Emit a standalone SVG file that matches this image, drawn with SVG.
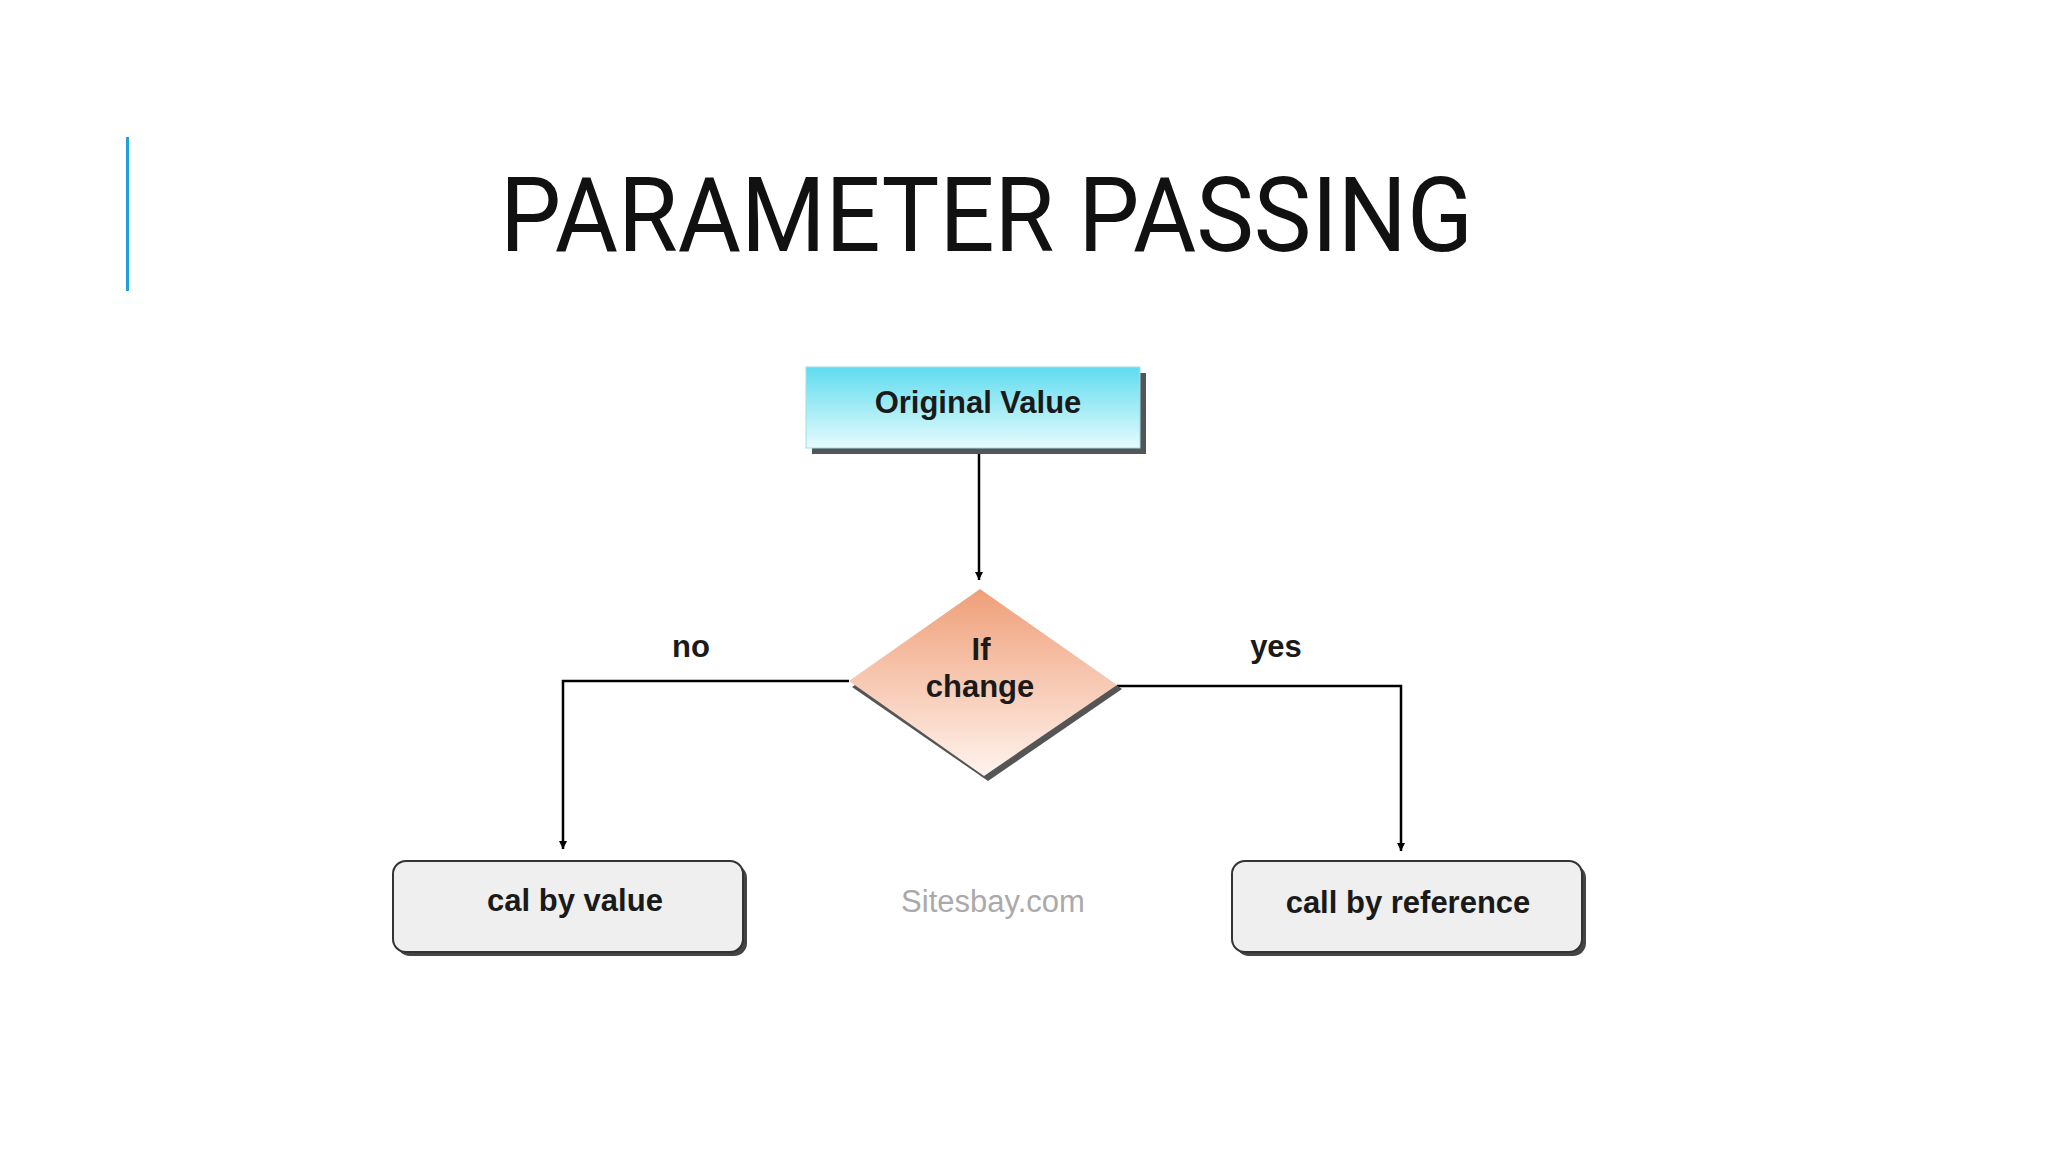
<svg xmlns="http://www.w3.org/2000/svg" width="2048" height="1152" viewBox="0 0 2048 1152">
<defs>
<linearGradient id="gb" x1="0" y1="0" x2="0" y2="1"><stop offset="0" stop-color="#5fdcef"/><stop offset="1" stop-color="#e6fbfd"/></linearGradient>
<linearGradient id="go" x1="0" y1="0" x2="0" y2="1"><stop offset="0" stop-color="#ef9f78"/><stop offset="1" stop-color="#fff3ee"/></linearGradient>
<marker id="ar" viewBox="0 0 10 10" refX="10" refY="5" markerWidth="8" markerHeight="8" markerUnits="userSpaceOnUse" orient="auto"><path d="M0,0 L10,5 L0,10 z" fill="#000"/></marker>
</defs>
<style>
.t{font-family:"Liberation Sans",Arial,sans-serif;font-weight:bold;font-size:31px;fill:#1a1a1a;text-anchor:middle}
.c{fill:none;stroke:#000;stroke-width:2.5;marker-end:url(#ar)}
.sh{fill:#555}
</style>
<rect width="2048" height="1152" fill="#fff"/>
<rect x="126" y="137" width="3" height="154" fill="#1ea0d8"/>
<text x="500" y="251" font-family="Roboto,'Liberation Sans Narrow',sans-serif" font-size="104" fill="#111" textLength="973" lengthAdjust="spacingAndGlyphs">PARAMETER PASSING</text>
<g id="connectors">
<path class="c" d="M979,451 V580" style="marker-end:url(#ar)"/>
<path class="c" d="M849,681 H563 V849"/>
<path class="c" d="M1117,686 H1401 V851"/>
</g>
<g id="original">
<rect class="sh" x="812" y="373" width="334" height="81"/>
<rect x="806" y="367" width="334" height="81" fill="url(#gb)" stroke="#9edfe8" stroke-width="1"/>
<text class="t" x="978" y="413">Original Value</text>
</g>
<g id="decision">
<path class="sh" d="M986,595 L1122,689 L988,781 L852,687 z" fill="#999"/>
<path d="M980,589 L1117,685 L984,776 L849,681 z" fill="url(#go)"/>
<text class="t" x="981" y="660">If</text>
<text class="t" x="980" y="697">change</text>
</g>
<text class="t" x="691" y="657">no</text>
<text class="t" x="1276" y="657">yes</text>
<g id="byvalue">
<rect x="397" y="865" width="350" height="91" rx="13" fill="#444"/>
<rect x="393" y="861" width="350" height="91" rx="13" fill="#efefef" stroke="#333" stroke-width="2"/>
<text class="t" x="575" y="911">cal by value</text>
</g>
<g id="byref">
<rect x="1236" y="865" width="350" height="91" rx="13" fill="#444"/>
<rect x="1232" y="861" width="350" height="91" rx="13" fill="#efefef" stroke="#333" stroke-width="2"/>
<text class="t" x="1408" y="913">call by reference</text>
</g>
<text x="993" y="912" font-family="'Liberation Sans',Arial,sans-serif" font-size="31" fill="#aaa" text-anchor="middle">Sitesbay.com</text>
</svg>
